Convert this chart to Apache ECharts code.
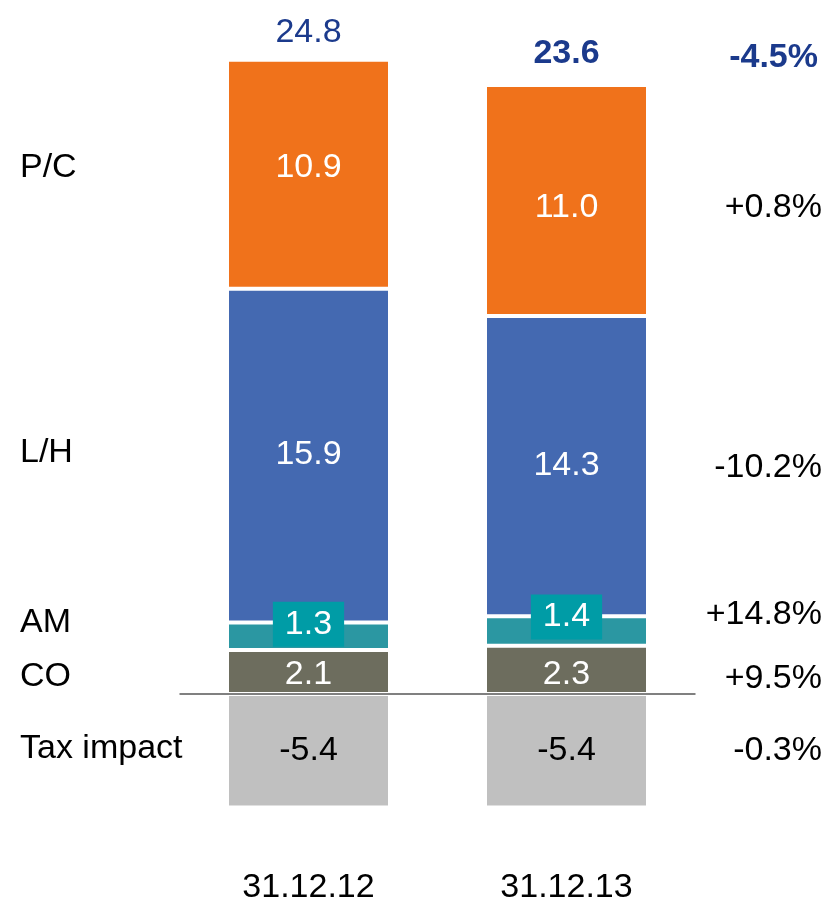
<!DOCTYPE html>
<html>
<head>
<meta charset="utf-8">
<script src="https://cdn.jsdelivr.net/npm/echarts@6/dist/echarts.min.js"></script>
<style>
  html, body { margin: 0; padding: 0; background: #ffffff; }
  #chart { width: 828px; height: 899px; }
</style>
</head>
<body>
<div id="chart"></div>
<script>
// Reporting dates
const categories = ['31.12.12', '31.12.13'];

// Segment contributions per date
const coValues  = [2.1, 2.3];
const amValues  = [1.3, 1.4];
const lhValues  = [15.9, 14.3];
const pcValues  = [10.9, 11.0];
const taxValues = [-5.4, -5.4];

// Net totals shown above each bar
const totals = [24.8, 23.6];

// Row captions (left) and year-on-year changes (right)
const rowNames   = ['P/C', 'L/H', 'AM', 'CO', 'Tax impact'];
const rowChanges = ['+0.8%', '-10.2%', '+14.8%', '+9.5%', '-0.3%'];
const totalChange = '-4.5%';

const FONT = '"Liberation Sans", Arial, Helvetica, sans-serif';
const FS = 34;
const NAVY = '#1B3A8C';

const stackTop = categories.map((_, i) => coValues[i] + amValues[i] + lhValues[i] + pcValues[i]);

const chart = echarts.init(document.getElementById('chart'), null, { renderer: 'canvas' });

const segStyle = (color) => ({ color: color, borderColor: '#ffffff', borderWidth: 2 });
const inLabel = (color) => ({
  show: true, position: 'inside', color: color, fontSize: FS, fontFamily: FONT,
  formatter: (p) => p.value.toFixed(1)
});
// per-bar vertical nudges for the value labels
const withOffsets = (values, offsets) =>
  values.map((v, i) => ({ value: v, label: { offset: [0, offsets[i]] } }));

const option = {
  animation: false,
  grid: {
    left: 179.5, right: 828 - 695.5, top: 22, bottom: 37,
    containLabel: false, outerBoundsMode: 'none'
  },
  xAxis: {
    type: 'category',
    data: categories,
    axisLine: { show: false },
    axisTick: { show: false },
    axisLabel: { color: '#000', fontSize: FS, fontFamily: FONT, margin: 9 }
  },
  yAxis: {
    type: 'value', min: -8, max: 32, show: false, splitLine: { show: false }
  },
  series: [
    {
      name: 'CO', type: 'bar', stack: 'total', barWidth: 163,
      data: withOffsets(coValues, [3, 5]),
      itemStyle: segStyle('#6D6D5E'), label: inLabel('#ffffff')
    },
    {
      name: 'AM', type: 'bar', stack: 'total',
      data: withOffsets(amValues, [-12, -14]),
      itemStyle: segStyle('#2B97A2'),
      label: Object.assign(inLabel('#ffffff'), {
        backgroundColor: '#009CA6', padding: [6, 12, 5, 12]
      })
    },
    {
      name: 'L/H', type: 'bar', stack: 'total',
      data: withOffsets(lhValues, [-1, -1]),
      itemStyle: segStyle('#4469B1'), label: inLabel('#ffffff')
    },
    {
      name: 'P/C', type: 'bar', stack: 'total',
      data: withOffsets(pcValues, [-7, 7]),
      itemStyle: segStyle('#F0721B'), label: inLabel('#ffffff')
    },
    {
      name: 'Tax impact', type: 'bar', stack: 'total',
      data: withOffsets(taxValues, [0, 0]),
      itemStyle: segStyle('#C0C0C0'), label: inLabel('#000000'),
      markLine: {
        silent: true, symbol: 'none', label: { show: false },
        lineStyle: { color: '#808080', width: 2, type: 'solid' },
        data: [{ yAxis: 0 }]
      }
    },
    {
      name: 'Total', type: 'scatter', symbolSize: 0,
      itemStyle: { opacity: 1 },
      data: stackTop.map((v, i) => ({
        value: v,
        label: {
          fontWeight: i === 0 ? 'normal' : 'bold',
          distance: i === 0 ? 10 : 14
        }
      })),
      label: {
        show: true, position: 'top', color: NAVY, fontSize: FS, fontFamily: FONT,
        formatter: (p) => totals[p.dataIndex].toFixed(1)
      }
    }
  ]
};

chart.setOption(option);

// Row captions and change figures beside the bars
const leftY  = [168, 453, 623, 677, 749];
const rightY = [208, 468, 615, 679, 751];
const textEls = [];
rowNames.forEach((name, i) => {
  textEls.push({
    type: 'text', left: 20, top: leftY[i] - FS / 2,
    style: { text: name, fill: '#000', font: FS + 'px ' + FONT }
  });
});
rowChanges.forEach((chg, i) => {
  textEls.push({
    type: 'text', right: 6, top: rightY[i] - FS / 2,
    style: { text: chg, fill: '#000', font: FS + 'px ' + FONT }
  });
});
textEls.push({
  type: 'text', right: 10, top: 58 - FS / 2,
  style: { text: totalChange, fill: NAVY, font: 'bold ' + FS + 'px ' + FONT }
});
chart.setOption({ graphic: textEls });
</script>
</body>
</html>
